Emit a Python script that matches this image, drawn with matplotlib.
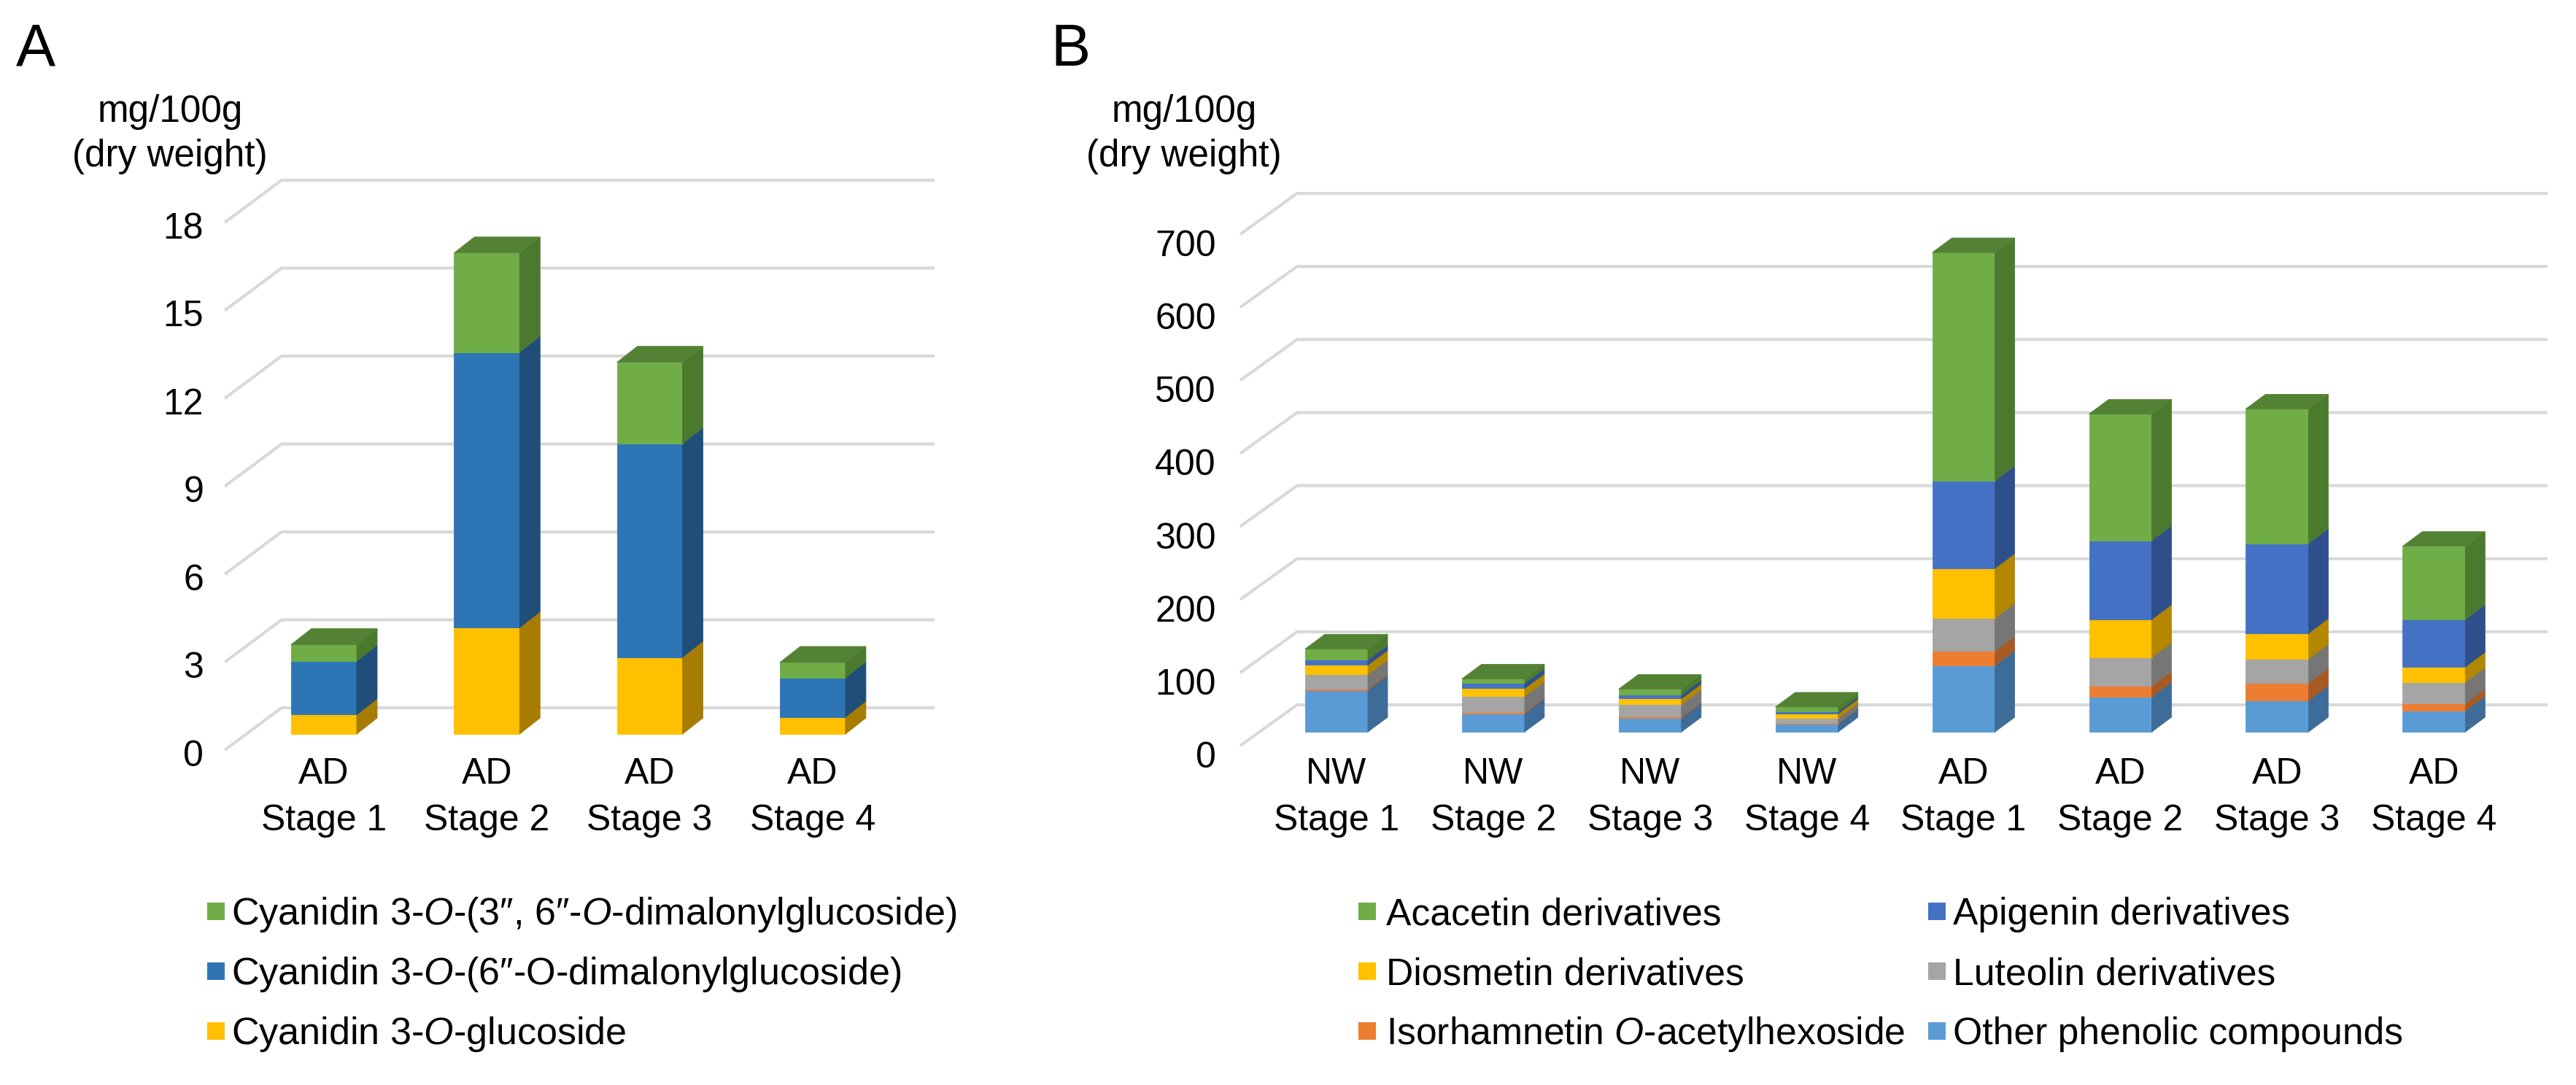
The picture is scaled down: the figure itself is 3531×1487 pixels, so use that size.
import matplotlib
matplotlib.use('Agg')
import matplotlib.pyplot as plt
from matplotlib.patches import Polygon, Rectangle
import numpy as np

plt.rcParams['font.family'] = ['Liberation Sans', 'DejaVu Sans']
plt.rcParams['mathtext.fontset'] = 'custom'
plt.rcParams['mathtext.rm'] = 'Liberation Sans'
plt.rcParams['mathtext.it'] = 'Liberation Sans:italic'

W, H, DPI = 3531, 1487, 300

# ---------------- data ----------------
a_groups = ['AD', 'AD', 'AD', 'AD']
a_stages = ['Stage 1', 'Stage 2', 'Stage 3', 'Stage 4']
a_glucoside = [0.66, 3.63, 2.62, 0.58]          # Cyanidin 3-O-glucoside
a_malonyl = [1.83, 9.40, 7.29, 1.34]            # Cyanidin 3-O-(6"-O-dimalonylglucoside)
a_dimalonyl = [0.56, 3.38, 2.77, 0.52]          # Cyanidin 3-O-(3", 6"-O-dimalonylglucoside)
a_ticks = [0, 3, 6, 9, 12, 15, 18]

b_groups = ['NW', 'NW', 'NW', 'NW', 'AD', 'AD', 'AD', 'AD']
b_stages = ['Stage 1', 'Stage 2', 'Stage 3', 'Stage 4', 'Stage 1', 'Stage 2', 'Stage 3', 'Stage 4']
b_other = [57, 25, 19, 11, 91, 48, 43, 29]
b_isorhamnetin = [1.5, 1.5, 1.5, 1, 20, 15, 24, 10]
b_luteolin = [20, 22, 17, 7, 45, 39, 33, 29]
b_diosmetin = [13, 11, 8, 6, 68, 52, 35, 21]
b_apigenin = [7, 7, 5, 3, 120, 108, 123, 65]
b_acacetin = [15, 6, 8, 6, 312, 173, 184, 100]
b_ticks = [0, 100, 200, 300, 400, 500, 600, 700]

a_labels = ['Cyanidin 3-$\\mathit{O}$-(3\u2033, 6\u2033-$\\mathit{O}$-dimalonylglucoside)',
            'Cyanidin 3-$\\mathit{O}$-(6\u2033-O-dimalonylglucoside)',
            'Cyanidin 3-$\\mathit{O}$-glucoside']
b_labels = ['Acacetin derivatives', 'Apigenin derivatives', 'Diosmetin derivatives',
            'Luteolin derivatives', 'Isorhamnetin $\\mathit{O}$-acetylhexoside',
            'Other phenolic compounds']

# colours: (front, side)
A_GREEN = ('#70AD47', '#4B7A2E')
A_BLUE = ('#2E75B6', '#1F4E79')
A_YELLOW = ('#FFC000', '#A67D00')
B_ACA = ('#70AD47', '#4B7A2E')
B_API = ('#4472C4', '#2E4F8C')
B_DIO = ('#FFC000', '#B38700')
B_LUT = ('#A5A5A5', '#767676')
B_ISO = ('#ED7D31', '#A85A24')
B_OTH = ('#5B9BD5', '#3D6C99')
TOP_GREEN = '#548235'
GRID = '#D9D9D9'

fig = plt.figure(figsize=(W / DPI, H / DPI), dpi=DPI)


def make_axes(box, xc0, xstep, y0px, ypx):
    px0, py0, px1, py1 = box
    ax = fig.add_axes([px0 / W, 1 - py1 / H, (px1 - px0) / W, (py1 - py0) / H])
    ax.set_xlim((px0 - xc0) / xstep, (px1 - xc0) / xstep)
    ax.set_ylim((y0px - py1) / ypx, (y0px - py0) / ypx)
    ax.axis('off')
    return ax


def panel(ax, xc0, xstep, y0px, ypx, series, ticks, groups, stages,
          bar_w_px, side_dx_px, side_dy_px, front_x_px, front_dy_px,
          back_x_px, back_dy_px, right_x_px, lab_x_px, lab_base_px):
    ux = lambda px: px / xstep
    uy = lambda px: px / ypx
    xf = (front_x_px - xc0) / xstep
    xb = (back_x_px - xc0) / xstep
    xe = (right_x_px - xc0) / xstep
    xl = (lab_x_px - xc0) / xstep
    for v in ticks:
        yfv = v - uy(front_dy_px)
        ybv = v + uy(back_dy_px)
        ax.plot([xf, xb, xe], [yfv, ybv, ybv], color=GRID, lw=1.0, zorder=1,
                solid_joinstyle='miter', solid_capstyle='butt')
        ax.text(xl, v - uy(front_dy_px) - uy(lab_base_px), str(v), ha='right',
                va='baseline', fontsize=12)
    x = np.arange(len(groups))
    w = ux(bar_w_px)
    ddx = ux(side_dx_px)
    ddy = uy(side_dy_px)
    bottoms = np.zeros(len(x))
    for vals, (fc, sc) in series:
        vals = np.asarray(vals, float)
        ax.bar(x, vals, width=w, bottom=bottoms, color=fc, edgecolor=fc,
               linewidth=0.2, zorder=3)
        for xi, b, h in zip(x, bottoms, vals):
            xr = xi + w / 2
            ax.add_patch(Polygon([(xr, b), (xr + ddx, b + ddy), (xr + ddx, b + h + ddy), (xr, b + h)],
                                 closed=True, facecolor=sc, edgecolor=sc, lw=0.2, zorder=3))
        bottoms = bottoms + vals
    for xi, t in zip(x, bottoms):
        xa, xz = xi - w / 2, xi + w / 2
        ax.add_patch(Polygon([(xa, t), (xz, t), (xz + ddx, t + ddy), (xa + ddx, t + ddy)],
                             closed=True, facecolor=TOP_GREEN, edgecolor=TOP_GREEN, lw=0.2, zorder=4))
    for xi, g, s in zip(x, groups, stages):
        ax.text(xi, -uy(1074 - y0px), g, ha='center', va='baseline', fontsize=12)
        ax.text(xi, -uy(1138 - y0px), s, ha='center', va='baseline', fontsize=12)


# ---------------- panel A ----------------
axA = make_axes((200, 220, 1320, 1170), 444, 223.3, 1006, 40.17)
panel(axA, 444, 223.3, 1006, 40.17,
      [(a_glucoside, A_YELLOW), (a_malonyl, A_BLUE), (a_dimalonyl, A_GREEN)],
      a_ticks, a_groups, a_stages,
      bar_w_px=90, side_dx_px=28, side_dy_px=22,
      front_x_px=308, front_dy_px=22, back_x_px=386, back_dy_px=36,
      right_x_px=1281, lab_x_px=279, lab_base_px=22)

# ---------------- panel B ----------------
axB = make_axes((1600, 220, 3531, 1170), 1832, 214.9, 1003, 1.0014)
panel(axB, 1832, 214.9, 1003, 1.0014,
      [(b_other, B_OTH), (b_isorhamnetin, B_ISO), (b_luteolin, B_LUT),
       (b_diosmetin, B_DIO), (b_apigenin, B_API), (b_acacetin, B_ACA)],
      b_ticks, b_groups, b_stages,
      bar_w_px=86, side_dx_px=27, side_dy_px=20,
      front_x_px=1700, front_dy_px=19, back_x_px=1778, back_dy_px=37,
      right_x_px=3492, lab_x_px=1667, lab_base_px=30)


def ftext(x, y, s, **kw):
    fig.text(x / W, 1 - y / H, s, **kw)


def fsquare(x, yc, color, w=24, h=24):
    fig.add_artist(Rectangle((x / W, 1 - (yc + h / 2) / H), w / W, h / H,
                             transform=fig.transFigure, facecolor=color, edgecolor='none'))


# panel letters & axis titles
ftext(22, 90, 'A', fontsize=19.5, va='baseline', ha='left')
ftext(1440, 90, 'B', fontsize=19.5, va='baseline', ha='left')
for cx in (233, 1623):
    ftext(cx, 167, 'mg/100g', fontsize=12.3, ha='center', va='baseline')
    ftext(cx, 228, '(dry weight)', fontsize=12.3, ha='center', va='baseline')

# legends
rows = [1249, 1331, 1413]
for lab, col, yc in zip(a_labels, [A_GREEN[0], A_BLUE[0], A_YELLOW[0]], rows):
    fsquare(284, yc, col)
    ftext(317, yc + 18, lab, fontsize=12.5, ha='left', va='baseline')

b_cols = [B_ACA[0], B_API[0], B_DIO[0], B_LUT[0], B_ISO[0], B_OTH[0]]
for k, (lab, col) in enumerate(zip(b_labels, b_cols)):
    r, c = divmod(k, 2)
    sx = 1862 if c == 0 else 2643
    tx = 1900 if c == 0 else 2677
    fsquare(sx, rows[r], col)
    ftext(tx, rows[r] + 18, lab, fontsize=12.4, ha='left', va='baseline')

fig.savefig('out.png', dpi=DPI)
